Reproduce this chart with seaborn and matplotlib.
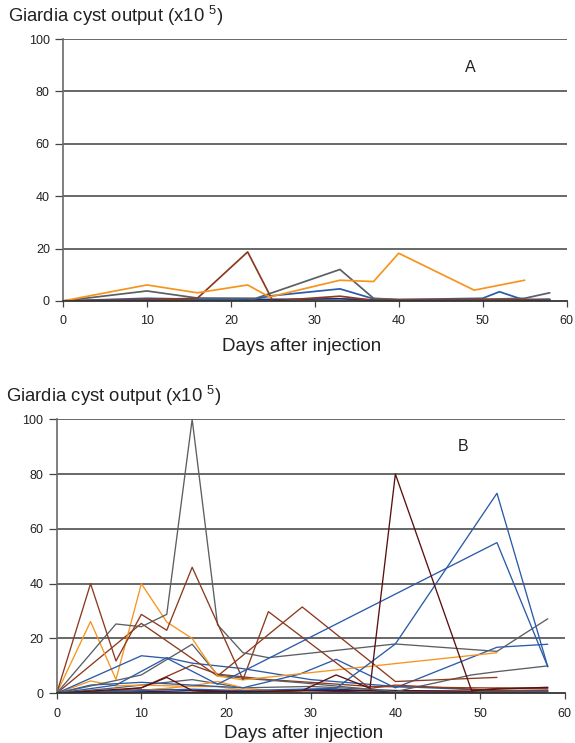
import matplotlib
matplotlib.use("Agg")
import matplotlib.pyplot as plt
import seaborn as sns
import pandas as pd

sns.set_theme(style="white")
plt.rcParams['font.family'] = ['Liberation Sans', 'DejaVu Sans']
plt.rcParams['mathtext.default'] = 'regular'

ORANGE = "#F7941E"
BROWN = "#8B3A1E"
MAROON = "#5A1010"
GRAY = "#5A5F63"
BLUE = "#2B5BA8"
NAVY = "#1C2F6E"

# ---------------- Panel A data ----------------
a_orange_days = [0, 10, 16, 22, 24.6, 33, 37, 40, 49, 55]
a_orange_vals = [0, 6.1, 3.1, 6.1, 1.5, 7.9, 7.4, 18.2, 4.1, 7.9]
a_brown_days = [0, 10, 16, 22, 25, 33, 37, 40, 50, 55, 58]
a_brown_vals = [0, 0.5, 1, 18.7, 0, 1.8, 0.2, 0.3, 0.5, 0.3, 0.3]
a_gray_days = [0, 10, 16, 23, 33, 37, 40, 50, 55, 58]
a_gray_vals = [0, 3.8, 1.1, 1, 12, 1, 0.5, 0.6, 1, 3.1]
a_blue_days = [0, 10, 22, 25, 33, 37, 40, 50, 52, 55, 58]
a_blue_vals = [0, 1, 0.3, 2, 4.6, 0.8, 0.5, 1, 3.5, 0.3, 0.5]
a_navy_days = [0, 10, 22, 33, 37, 40, 50, 58]
a_navy_vals = [0, 0.3, 0.5, 0.8, 0.4, 0.3, 0.5, 0.6]

# ---------------- Panel B data ----------------
b_gray1_days = [0, 7, 10, 13, 16, 19, 22, 25, 40, 52, 58]
b_gray1_vals = [0, 25.3, 24.3, 28.8, 100, 25, 14.8, 13, 18, 15.3, 27.2]
b_brown1_days = [0, 4, 7, 10, 13, 16, 22, 25, 37, 40, 49, 52, 58]
b_brown1_vals = [0, 40, 11.8, 28.8, 23, 46, 5, 29.8, 1.8, 3, 1.5, 1, 1.2]
b_orange1_days = [0, 4, 7, 10, 13, 16, 19, 22, 52]
b_orange1_vals = [0, 26.2, 5, 40, 26, 20, 6.3, 4.9, 14.8]
b_brown2_days = [0, 10, 19, 29, 40, 52]
b_brown2_vals = [0, 25.5, 6.3, 31.5, 4.3, 5.8]
b_blue1_days = [0, 10, 13, 19, 52, 58]
b_blue1_vals = [0, 13.7, 12.8, 3.3, 55, 9.7]
b_blue2_days = [0, 10, 16, 22, 33, 40, 52, 58]
b_blue2_vals = [0, 1, 1.5, 1, 1.8, 18, 73, 9.7]
b_maroon1_days = [0, 10, 13, 16, 22, 29, 33, 37, 40, 49, 52, 58]
b_maroon1_vals = [0, 2, 5.8, 1, 0.5, 1, 6.7, 1.8, 80, 1, 1.5, 2.2]
b_blue3_days = [0, 4, 10, 16, 22, 28.7, 33, 40, 52, 58]
b_blue3_vals = [0, 3, 4, 3, 2, 7, 12.4, 2, 16.8, 17.9]
b_gray2_days = [0, 10, 16, 19, 22, 28.7, 40, 49, 52, 58]
b_gray2_vals = [0, 6.7, 17.9, 6.7, 5.5, 3.9, 0.6, 6.7, 7.9, 10]
b_brown3_days = [0, 7, 10, 16, 19, 25, 30, 37, 49, 58]
b_brown3_vals = [0, 1, 2, 10.3, 7, 5, 4, 2.5, 2, 1.8]
b_orange2_days = [0, 4, 7, 10, 16, 19, 22, 29]
b_orange2_vals = [0, 4.5, 2.7, 3, 2.5, 2.4, 1.2, 0.2]
b_orange3_days = [0, 10, 16, 19, 22, 25, 28]
b_orange3_vals = [0, 1, 2.7, 4.3, 2, 1, 0.5]
b_navy1_days = [0, 10, 16, 22, 33, 40, 52, 58]
b_navy1_vals = [0, 0.5, 1, 0.8, 1.5, 0.5, 0.3, 0.5]
b_navy2_days = [0, 7, 13, 19, 28.7, 40, 49, 58]
b_navy2_vals = [0, 1, 1.5, 0.5, 1, 0.2, 0.5, 1]
b_gray3_days = [0, 7, 10, 16, 22, 30, 40, 52, 58]
b_gray3_vals = [0, 2, 3, 5, 2, 2.5, 1, 0.5, 0.8]
b_blue4_days = [0, 7, 13, 16, 22, 30, 40, 52, 58]
b_blue4_vals = [0, 3, 13, 11, 9, 5, 2.5, 1, 0.8]
b_maroon2_days = [0, 10, 16, 22, 30, 40, 49, 52, 58]
b_maroon2_vals = [0, 0.5, 0.3, 0.5, 1, 1, 0.8, 1.8, 2]

x_ticks = [0, 10, 20, 30, 40, 50, 60]
y_ticks = [0, 20, 40, 60, 80, 100]

series_a = [
    ("a_navy", a_navy_days, a_navy_vals, NAVY),
    ("a_blue", a_blue_days, a_blue_vals, BLUE),
    ("a_gray", a_gray_days, a_gray_vals, GRAY),
    ("a_brown", a_brown_days, a_brown_vals, BROWN),
    ("a_orange", a_orange_days, a_orange_vals, ORANGE),
]
series_b = [
    ("b_navy1", b_navy1_days, b_navy1_vals, NAVY),
    ("b_navy2", b_navy2_days, b_navy2_vals, NAVY),
    ("b_gray3", b_gray3_days, b_gray3_vals, GRAY),
    ("b_orange2", b_orange2_days, b_orange2_vals, ORANGE),
    ("b_orange3", b_orange3_days, b_orange3_vals, ORANGE),
    ("b_maroon2", b_maroon2_days, b_maroon2_vals, MAROON),
    ("b_brown3", b_brown3_days, b_brown3_vals, BROWN),
    ("b_blue4", b_blue4_days, b_blue4_vals, BLUE),
    ("b_blue3", b_blue3_days, b_blue3_vals, BLUE),
    ("b_gray2", b_gray2_days, b_gray2_vals, GRAY),
    ("b_brown2", b_brown2_days, b_brown2_vals, BROWN),
    ("b_orange1", b_orange1_days, b_orange1_vals, ORANGE),
    ("b_gray1", b_gray1_days, b_gray1_vals, GRAY),
    ("b_brown1", b_brown1_days, b_brown1_vals, BROWN),
    ("b_blue1", b_blue1_days, b_blue1_vals, BLUE),
    ("b_blue2", b_blue2_days, b_blue2_vals, BLUE),
    ("b_maroon1", b_maroon1_days, b_maroon1_vals, MAROON),
]


def to_frame(series):
    rows = []
    for name, d, v, _ in series:
        for x, y in zip(d, v):
            rows.append({"series": name, "day": x, "value": y})
    return pd.DataFrame(rows)


fig = plt.figure(figsize=(5.75, 7.43), dpi=100)
axA = fig.add_axes([0.1096, 0.595, 0.8757, 0.3525])
axB = fig.add_axes([0.0986, 0.0669, 0.8835, 0.3688])


def style(ax, series, lw, label, lpos, labelpad, xlab_x):
    df = to_frame(series)
    pal = {n: c for n, _, _, c in series}
    for y in y_ticks[1:]:
        ax.axhline(y, color="#3f3f3f", lw=1.1, zorder=0.5)
    sns.lineplot(data=df, x="day", y="value", hue="series", palette=pal,
                 hue_order=[s[0] for s in series], estimator=None, sort=False,
                 units="series", legend=False, lw=lw, ax=ax, zorder=2)
    ax.set_xlim(0, 60)
    ax.set_ylim(0, 100)
    ax.set_xticks(x_ticks)
    ax.set_yticks(y_ticks)
    ax.set_xticklabels([str(t) for t in x_ticks], fontsize=9, color="#222222")
    ax.set_yticklabels([str(t) for t in y_ticks], fontsize=9, color="#222222")
    for s in ["top", "right"]:
        ax.spines[s].set_visible(False)
    ax.spines["left"].set_color("#6a6a6a")
    ax.spines["left"].set_linewidth(1.2)
    ax.spines["bottom"].set_color("#333333")
    ax.spines["bottom"].set_linewidth(1.3)
    ax.spines["bottom"].set_zorder(3)
    ax.tick_params(axis="y", direction="out", length=5.5, width=0.9,
                   color="#444444", pad=4, left=True)
    ax.tick_params(axis="x", direction="out", length=4.5, width=0.9,
                   color="#444444", pad=6, bottom=True)
    ax.set_xlabel("Days after injection", fontsize=13.5, color="#222222",
                  labelpad=labelpad)
    ax.xaxis.label.set_x(xlab_x)
    ax.set_ylabel("")
    ax.patch.set_alpha(0)
    ax.text(lpos[0], lpos[1], label, transform=ax.transAxes,
            fontsize=11.5, color="#222222", ha="center", va="center")


style(axA, series_a, 1.25, "A", (0.808, 0.893), 7.5, 0.473)
style(axB, series_b, 0.95, "B", (0.80, 0.899), 4.0, 0.486)

fig.text(8 / 575, 1 - 16 / 743, "Giardia cyst output (x10 $^{5}$)", fontsize=13.3,
         color="#222222", ha="left", va="center")
fig.text(6 / 575, 1 - 396 / 743, "Giardia cyst output (x10 $^{5}$)", fontsize=13.3,
         color="#222222", ha="left", va="center")

fig.savefig("out.png", dpi=100, facecolor="white")
